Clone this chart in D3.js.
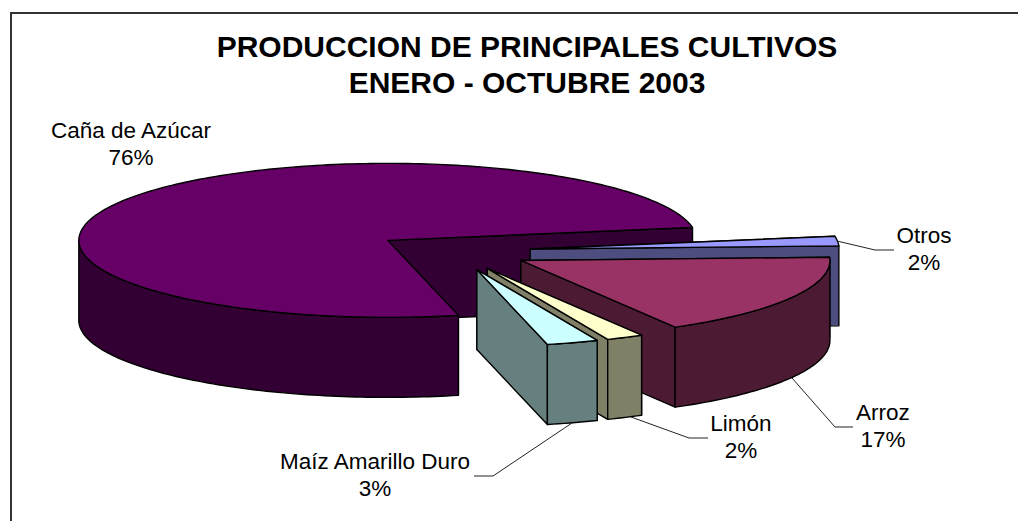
<!DOCTYPE html>
<html>
<head>
<meta charset="utf-8">
<script src="https://d3js.org/d3.v7.min.js"></script>
<style>
  html, body { margin: 0; background: white; }
  svg { display: block; }
  text { font-family: "Liberation Sans", Arial, sans-serif; fill: black; }
</style>
</head>
<body>
<svg id="chart" width="1018" height="521"></svg>
<script>
const titleLines = ["PRODUCCION DE PRINCIPALES CULTIVOS", "ENERO - OCTUBRE 2003"];
const categories = ["Caña de Azúcar", "Otros", "Arroz", "Limón", "Maíz Amarillo Duro"];
const values = [76.0, 2.0, 17.35, 1.95, 2.7];
const colors = ["#660066", "#9999ff", "#993366", "#ffffcc", "#ccffff"];

const svg = d3.select("#chart");

// pie geometry, the slices are pulled out 25% of the radius
const center = { x: 452.7, y: 251.1 };
const radius = { x: 309, y: 77 };
const depth = 80;
const explode = 0.252;
const startAngle = 76.8 * Math.PI / 180;

const xScale = d3.scaleLinear().domain([0, 1]).range([0, radius.x]);
const yScale = d3.scaleLinear().domain([0, 1]).range([0, radius.y]);

const slices = d3.pie().sort(null).value(d => d)
  .startAngle(startAngle).endAngle(startAngle + 2 * Math.PI)(values);

const line = d3.line().x(d => d[0]).y(d => d[1]);
const percent = d3.format(".0%");
const total = d3.sum(values);

function side(color) {
  let c = d3.rgb(color);
  return d3.rgb(c.r / 2, c.g / 2, c.b / 2).formatHex();
}

function arcPoints(a0, a1, ox, oy) {
  let n = Math.max(2, Math.ceil((a1 - a0) / 0.02));
  return d3.range(n + 1).map(i => {
    let a = a0 + (a1 - a0) * i / n;
    return [ox + xScale(Math.cos(a)), oy + yScale(Math.sin(a))];
  });
}

function drawSlice(s, i) {
  let mid = (s.startAngle + s.endAngle) / 2;
  let ox = center.x + xScale(explode * Math.cos(mid));
  let oy = center.y + yScale(explode * Math.sin(mid));
  let g = svg.append("g");
  let face = p => g.append("path").attr("d", line(p) + "Z")
    .attr("stroke", "black").attr("stroke-width", 1.4).attr("stroke-linejoin", "round");

  // radial walls
  ;[s.startAngle, s.endAngle].forEach(a => {
    let p = [ox + xScale(Math.cos(a)), oy + yScale(Math.sin(a))];
    face([[ox, oy], p, [p[0], p[1] + depth], [ox, oy + depth]]).attr("fill", side(colors[i]));
  });

  // outer wall, only the part turned to the viewer
  let twoPi = 2 * Math.PI;
  let ranges = [[0, Math.PI], [twoPi, twoPi + Math.PI]];
  ranges.forEach(r => {
    let a0 = Math.max(s.startAngle, r[0]), a1 = Math.min(s.endAngle, r[1]);
    if (a1 <= a0) return;
    let top = arcPoints(a0, a1, ox, oy);
    let bottom = top.map(d => [d[0], d[1] + depth]).reverse();
    face(top.concat(bottom)).attr("fill", side(colors[i]));
  });

  // top
  face([[ox, oy]].concat(arcPoints(s.startAngle, s.endAngle, ox, oy))).attr("fill", colors[i]);
}

// frame, only top and left are inside the picture
svg.append("path").attr("d", "M11,521V13H1018").attr("fill", "none")
  .attr("stroke", "#333").attr("stroke-width", 2);

slices.forEach(drawSlice);

// title
svg.append("g").selectAll("text").data(titleLines).join("text")
  .attr("x", 527).attr("y", (d, i) => 57 + i * 36)
  .attr("text-anchor", "middle").attr("font-size", 30).attr("font-weight", "bold")
  .text(d => d);

// leader lines, one per label (none for the first slice)
const leaders = [null,
  [[837, 241], [875, 250], [894, 250]],
  [[792, 378], [835, 427], [853, 427]],
  [[631, 417], [689, 438], [708, 438]],
  [[572, 423], [493, 476], [474, 476]]];
const labelPos = [[131, 138], [924, 243], [883, 420], [741, 431], [375, 469]];

leaders.forEach(p => {
  if (p) svg.append("path").attr("d", line(p)).attr("fill", "none").attr("stroke", "#222").attr("stroke-width", 1);
});

categories.forEach((c, i) => {
  let t = svg.append("text").attr("text-anchor", "middle").attr("font-size", 22.5);
  t.append("tspan").attr("x", labelPos[i][0]).attr("y", labelPos[i][1]).text(c);
  t.append("tspan").attr("x", labelPos[i][0]).attr("y", labelPos[i][1] + 26.5).text(percent(values[i] / total));
});
</script>
</body>
</html>
